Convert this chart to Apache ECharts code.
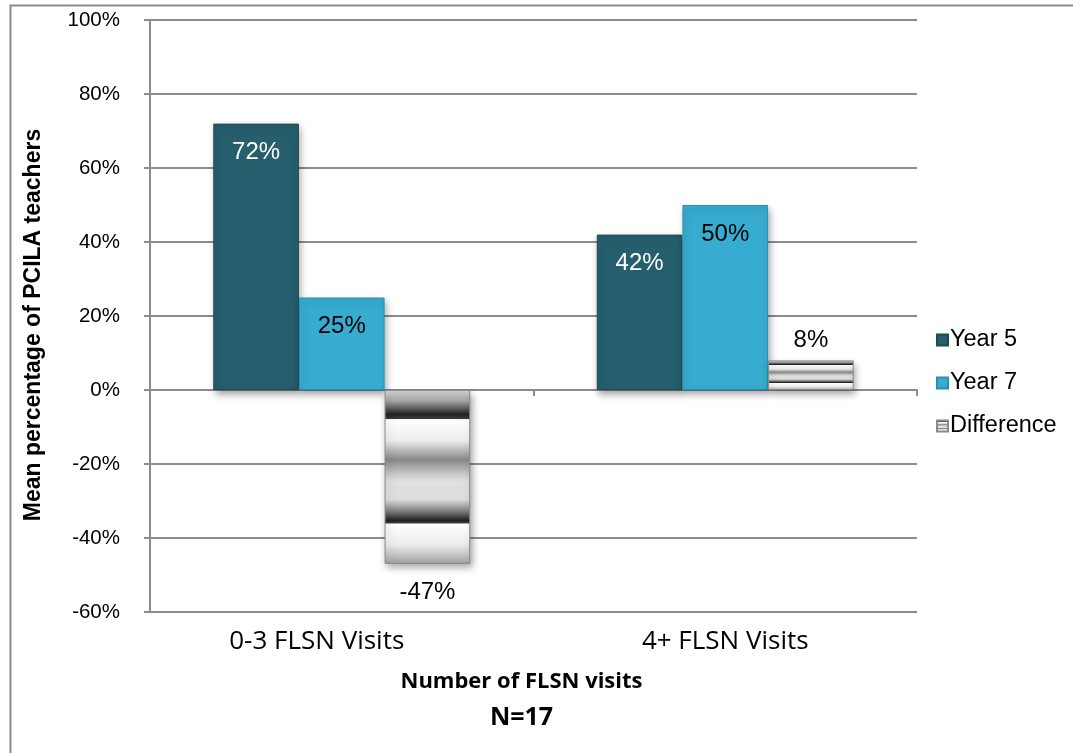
<!DOCTYPE html>
<html>
<head>
<meta charset="utf-8">
<script src="https://cdn.jsdelivr.net/npm/echarts@6/dist/echarts.min.js"></script>
<style>
  html, body { margin: 0; padding: 0; background: #fff; }
  #chart { width: 1073px; height: 753px; }
</style>
</head>
<body>
<div id="chart"></div>
<script>
// FLSN visit groups and mean percentages of PCILA teachers
const categories = ['0-3 FLSN Visits', '4+ FLSN Visits'];
const year5 = [72, 42];
const year7 = [25, 50];
const difference = [-47, 8];
const seriesNames = ['Year 5', 'Year 7', 'Difference'];
const yTicks = { min: -60, max: 100, step: 20 };

// Metallic banded fill used for the difference bars
const chromeFill = new echarts.graphic.LinearGradient(0, 0, 0, 1, [
  { offset: 0.00, color: '#d8d8d8' },
  { offset: 0.06, color: '#aaaaaa' },
  { offset: 0.14, color: '#222222' },
  { offset: 0.165, color: '#3a3a3a' },
  { offset: 0.17, color: '#ffffff' },
  { offset: 0.29, color: '#eeeeee' },
  { offset: 0.40, color: '#888888' },
  { offset: 0.49, color: '#cccccc' },
  { offset: 0.53, color: '#e0e0e0' },
  { offset: 0.63, color: '#dcdcdc' },
  { offset: 0.69, color: '#888888' },
  { offset: 0.75, color: '#222222' },
  { offset: 0.765, color: '#3a3a3a' },
  { offset: 0.77, color: '#ffffff' },
  { offset: 0.89, color: '#ececec' },
  { offset: 1.00, color: '#a0a0a0' }
]);

const shadow = { shadowBlur: 7, shadowOffsetX: 2, shadowOffsetY: 4, shadowColor: 'rgba(0,0,0,0.35)' };
const labelFont = { fontFamily: 'Liberation Sans, Arial, sans-serif', fontSize: 24 };

// The first category label sits a little left of its group
const categoryItems = categories.map((c, i) => ({
  value: c,
  textStyle: i === 0 ? { padding: [0, 50, 0, 0] } : {}
}));

const chart = echarts.init(document.getElementById('chart'), null, { renderer: 'canvas' });

chart.setOption({
  animation: false,
  backgroundColor: '#ffffff',
  grid: { left: 150, top: 20, right: 156, bottom: 141, containLabel: false },
  legend: {
    orient: 'vertical',
    left: 931,
    top: 323,
    itemGap: 19,
    itemWidth: 11,
    itemHeight: 11,
    icon: 'rect',
    textStyle: { fontFamily: 'Liberation Sans, Arial, sans-serif', fontSize: 23.5, color: '#000', padding: [0, 0, 0, -3] },
    data: seriesNames
  },
  xAxis: [
    {
      type: 'category',
      data: categoryItems,
      position: 'bottom',
      axisLine: { show: false, onZero: false },
      axisTick: { show: false },
      axisLabel: {
        margin: 17,
        fontFamily: 'Open Sans, sans-serif',
        fontSize: 26,
        color: '#000'
      },
      name: '{a|Number of FLSN visits}\n{b|N=17}',
      nameLocation: 'middle',
      nameGap: 52,
      nameTextStyle: {
        padding: [0, 24, 0, 0],
        rich: {
          a: { fontFamily: 'Open Sans, sans-serif', fontWeight: 'bold', fontSize: 22, color: '#000', lineHeight: 36 },
          b: { fontFamily: 'Open Sans, sans-serif', fontWeight: 'bold', fontSize: 25, color: '#000', lineHeight: 36 }
        }
      }
    },
    {
      type: 'category',
      data: categories,
      position: 'bottom',
      axisLine: { show: true, onZero: true, lineStyle: { color: '#8c8c8c', width: 2 } },
      axisTick: { show: true, length: 6, lineStyle: { color: '#8c8c8c', width: 2 } },
      axisLabel: { show: false }
    }
  ],
  yAxis: {
    type: 'value',
    min: yTicks.min,
    max: yTicks.max,
    interval: yTicks.step,
    axisLine: { show: true, lineStyle: { color: '#8c8c8c', width: 2 } },
    axisTick: { show: true, length: 6, lineStyle: { color: '#8c8c8c', width: 2 } },
    splitLine: { show: true, lineStyle: { color: '#8c8c8c', width: 2 } },
    axisLabel: {
      formatter: '{value}%',
      margin: 30,
      fontFamily: 'Liberation Sans, Arial, sans-serif',
      fontSize: 20.5,
      color: '#000'
    },
    name: 'Mean percentage of PCILA teachers',
    nameLocation: 'middle',
    nameGap: 105,
    nameTextStyle: {
      padding: [0, 18, 0, 0],
      fontFamily: 'Liberation Sans, Arial, sans-serif',
      fontWeight: 'bold',
      fontSize: 23,
      color: '#000'
    }
  },
  series: [
    {
      name: seriesNames[0],
      type: 'bar',
      barGap: '0%',
      barCategoryGap: '33%',
      data: year5,
      itemStyle: Object.assign({ color: '#265e6e', borderColor: '#1d4a57', borderWidth: 1 }, shadow),
      label: Object.assign({ show: true, position: 'insideTop', distance: 17, color: '#fff', formatter: '{c}%' }, labelFont)
    },
    {
      name: seriesNames[1],
      type: 'bar',
      data: year7,
      itemStyle: Object.assign({ color: '#37acd0', borderColor: '#2b8fae', borderWidth: 1 }, shadow),
      label: Object.assign({ show: true, position: 'insideTop', distance: 17, color: '#000', formatter: '{c}%' }, labelFont)
    },
    {
      name: seriesNames[2],
      type: 'bar',
      data: difference.map(v => ({
        value: v,
        label: { position: v < 0 ? 'bottom' : 'top', distance: v < 0 ? 16 : 8 }
      })),
      itemStyle: Object.assign({ color: chromeFill, borderColor: '#8a8a8a', borderWidth: 1 }, shadow),
      label: Object.assign({ show: true, color: '#000', formatter: '{c}%' }, labelFont)
    }
  ],
  graphic: [
    {
      type: 'rect',
      left: 8,
      top: 3,
      shape: { width: 1200, height: 900 },
      style: { fill: 'none', stroke: '#8a8a8a', lineWidth: 2 },
      silent: true,
      z: 100
    }
  ]
});
</script>
</body>
</html>
